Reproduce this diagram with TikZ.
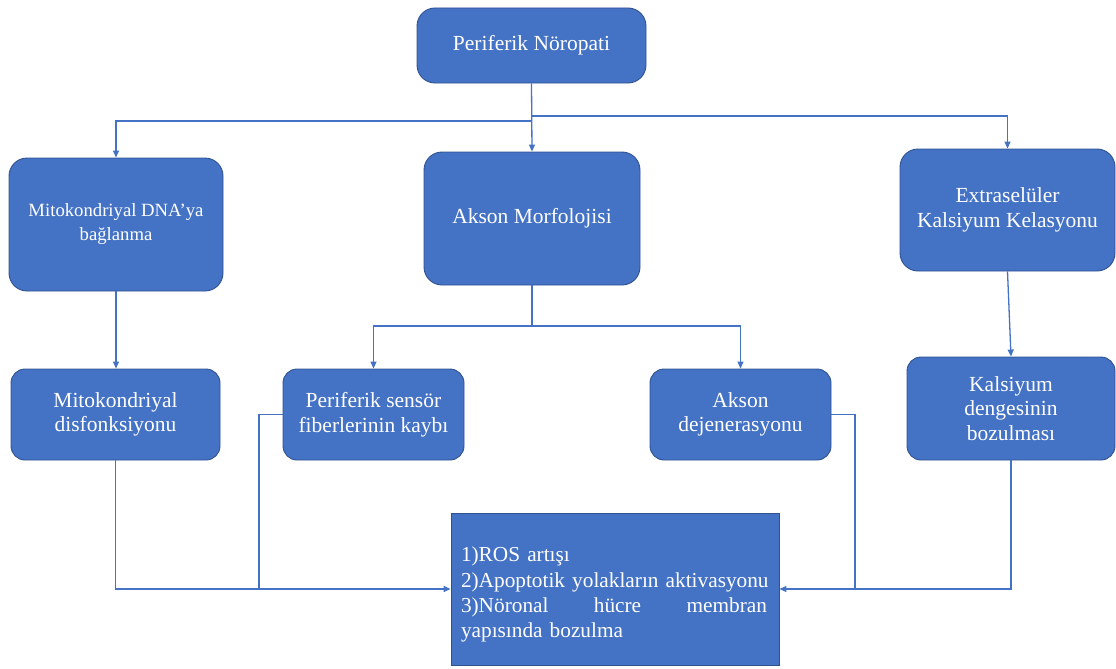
\documentclass[tikz,border=0pt]{standalone}
\usepackage{fontspec}
\setmainfont{Liberation Serif}
\usetikzlibrary{arrows.meta}
\definecolor{boxfill}{HTML}{4472C4}
\definecolor{boxline}{HTML}{2F528F}
\definecolor{conn}{HTML}{4472C4}
\begin{document}
\begin{tikzpicture}[x=1pt,y=-1pt,
  box/.style={draw=boxline, line width=0.9pt, fill=boxfill, text=white, rounded corners=18pt,
    inner sep=0pt, align=center, font=\fontsize{21.5}{24.5}\selectfont},
  smallbox/.style={box, rounded corners=14pt},
  line/.style={draw=conn, line width=1.3pt},
  arr/.style={line, -{Triangle[length=7pt,width=6pt]}}]
\useasboundingbox (0,0) rectangle (1116,669);
% nodes
\node[box, minimum width=229pt, minimum height=75pt] (top) at (531.5,45.5) {Periferik Nöropati};
\node[box, minimum width=214pt, minimum height=133pt, font=\fontsize{18.7}{24}\selectfont] (mdna) at (116,224.5) {Mitokondriyal DNA’ya\\bağlanma};
\node[box, minimum width=216pt, minimum height=133pt] (akson) at (532,218.5) {Akson Morfolojisi};
\node[box, minimum width=215pt, minimum height=122pt] (extra) at (1007.5,210) {Extraselüler\\Kalsiyum Kelasyonu};
\node[smallbox, minimum width=209pt, minimum height=91pt] (mdis) at (115.5,414.5) {Mitokondriyal\\disfonksiyonu};
\node[smallbox, minimum width=181pt, minimum height=91pt] (psens) at (373.5,414.5) {Periferik sensör\\fiberlerinin kaybı};
\node[smallbox, minimum width=181pt, minimum height=91pt] (adej) at (740.5,414.5) {Akson\\dejenerasyonu};
\node[smallbox, minimum width=208pt, minimum height=103pt] (kals) at (1011,408.5) {Kalsiyum\\dengesinin\\bozulması};
\node[box, rounded corners=0pt, minimum width=328pt, minimum height=152pt, text width=308pt, align=left,
  font=\fontsize{21.3}{25.2}\selectfont] (bottom) at (615,589)
  {\rule{0pt}{26pt}1)ROS artışı\\\mbox{2)Apoptotik yolakların aktivasyonu}\\\makebox[306pt][s]{3)Nöronal\hfill hücre\hfill membran}\\yapısında bozulma};
% junction points
\coordinate (jl) at (259,589);
\coordinate (jr) at (855,589);
% connectors
\draw[arr] (top.south) -- (akson.north);
\draw[arr] (top.south |- 0,121) -| (mdna.north);
\draw[arr] (top.south |- 0,116) -| (extra.north);
\draw[arr] (mdna.south) -- (mdna.south |- mdis.north);
\draw[arr] (akson.south) -- (akson.south |- 0,326) -| (psens.north);
\draw[arr] (akson.south |- 0,326) -| (adej.north);
\draw[arr] (extra.south) -- (kals.north);
\draw[arr] (mdis.south) |- (bottom.west);
\draw[line] (psens.west) -| (jl);
\draw[arr] (kals.south) |- (bottom.east);
\draw[line] (adej.east) -| (jr);
\end{tikzpicture}
\end{document}
